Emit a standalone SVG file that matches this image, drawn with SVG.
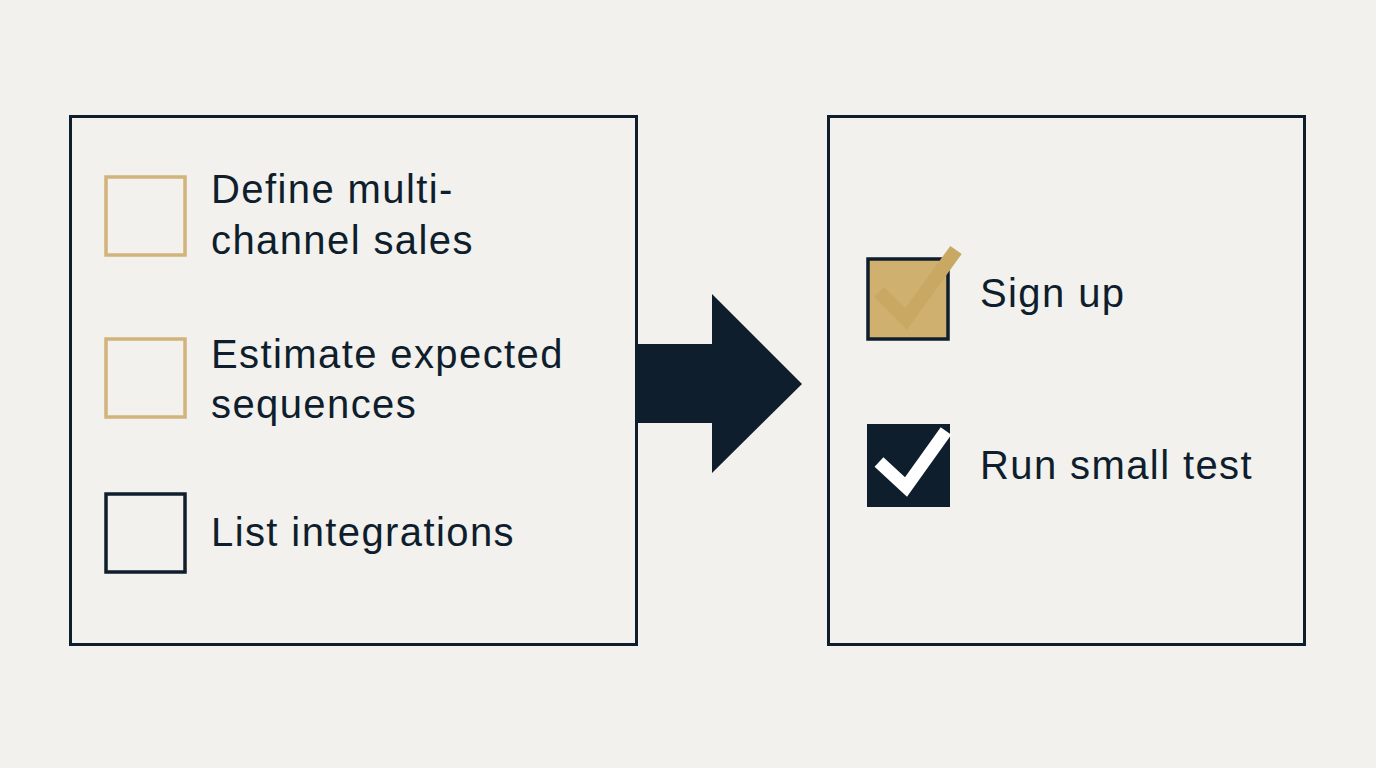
<svg xmlns="http://www.w3.org/2000/svg" width="1376" height="768" viewBox="0 0 1376 768">
<style>
.panel{fill:none;stroke:#0f1e2c;stroke-width:3}
.lbl{font-family:"Liberation Sans",Arial,sans-serif;font-size:40px;letter-spacing:1.4px;fill:#0f1e2c}
.gold{fill:none;stroke:#d2b37b;stroke-width:3.5}
.dark{fill:none;stroke:#0f1e2c;stroke-width:3.5}
</style>
<rect width="1376" height="768" fill="#f2f1ed"/>
<g id="left-panel">
<rect class="panel" x="70.5" y="116.5" width="566" height="528"/>
</g>
<g id="item-define">
<rect class="gold" x="106" y="177" width="79" height="78"/>
<text class="lbl" x="211" y="203">Define multi-</text>
<text class="lbl" x="211" y="254">channel sales</text>
</g>
<g id="item-estimate">
<rect class="gold" x="106" y="339" width="79" height="78"/>
<text class="lbl" x="211" y="368">Estimate expected</text>
<text class="lbl" x="211" y="418">sequences</text>
</g>
<g id="item-list">
<rect class="dark" x="106" y="494" width="79" height="78"/>
<text class="lbl" x="211" y="546">List integrations</text>
</g>
<g id="connectors">
<polygon points="636,344 712,344 712,294 802,384 712,473 712,423 636,423" fill="#0f1e2c"/>
</g>
<g id="right-panel">
<rect class="panel" x="828.5" y="116.5" width="476" height="528"/>
</g>
<g id="item-signup">
<rect x="868" y="259" width="80" height="80" fill="#d0b06f" stroke="#0f1e2c" stroke-width="3.5"/>
<polyline points="879,292 906,319 956,250" fill="none" stroke="#c8a862" stroke-width="14" stroke-linecap="butt" stroke-linejoin="miter"/>
<text class="lbl" x="980" y="307">Sign up</text>
</g>
<g id="item-runtest">
<rect x="867" y="424" width="83" height="83" fill="#0f1e2c"/>
<polyline points="879,462 906,487 946,431" fill="none" stroke="#ffffff" stroke-width="13" stroke-linecap="butt" stroke-linejoin="miter"/>
<text class="lbl" x="980" y="479">Run small test</text>
</g>
</svg>
